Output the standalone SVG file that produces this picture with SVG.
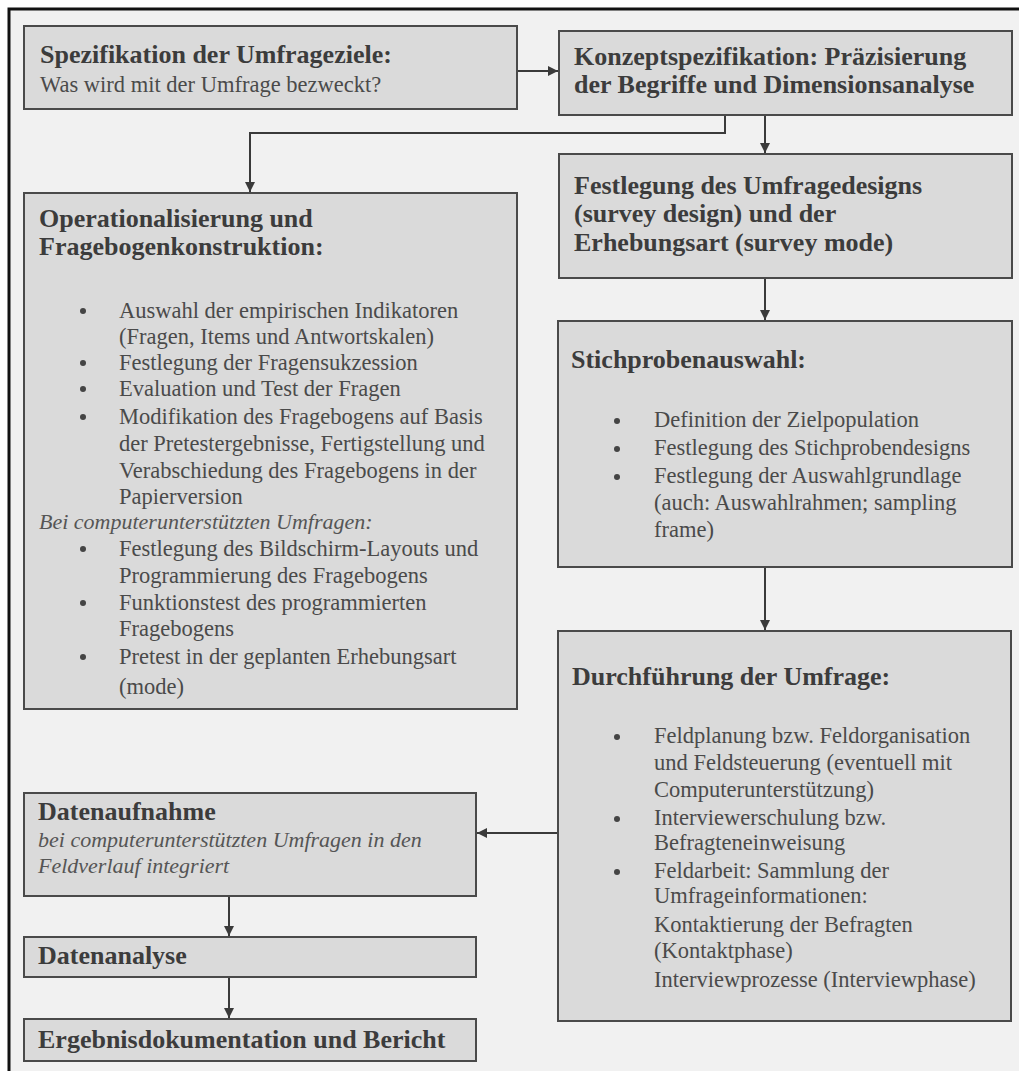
<svg xmlns="http://www.w3.org/2000/svg" width="1019" height="1071" viewBox="0 0 1019 1071">
<defs>
<style>
.box{fill:#dadada;stroke:#4a4a4a;stroke-width:2}
.t{font-family:"Liberation Serif","Times New Roman",serif;font-size:26px;font-weight:bold;fill:#3c3c3c}
.b{font-family:"Liberation Serif","Times New Roman",serif;font-size:22.5px;fill:#4a4a4a}
.i{font-family:"Liberation Serif","Times New Roman",serif;font-size:22px;font-style:italic;fill:#555}
.dot{fill:#444}
.con{fill:none;stroke:#3a3a3a;stroke-width:2}
</style>
<marker id="arr" viewBox="0 0 10 10" refX="10" refY="5" markerWidth="10" markerHeight="10" markerUnits="userSpaceOnUse" orient="auto">
<path d="M0,0 L10,5 L0,10 z" fill="#3a3a3a"/>
</marker>
</defs>
<rect x="0" y="0" width="1019" height="1071" fill="#ffffff"/>
<rect x="9" y="9" width="1010" height="1062" fill="#f1f1f1"/>
<path d="M9,1071 V9 H1019" fill="none" stroke="#111" stroke-width="3"/>

<g id="connectors">
<path class="con" d="M517,71 H558" marker-end="url(#arr)"/>
<path class="con" d="M725,115 V133 H250 V192" marker-end="url(#arr)"/>
<path class="con" d="M765,115 V153" marker-end="url(#arr)"/>
<path class="con" d="M765,278 V320" marker-end="url(#arr)"/>
<path class="con" d="M765,567 V630" marker-end="url(#arr)"/>
<path class="con" d="M558,833 H477" marker-end="url(#arr)"/>
<path class="con" d="M229,896 V936" marker-end="url(#arr)"/>
<path class="con" d="M229,977 V1018" marker-end="url(#arr)"/>
</g>

<g id="n1">
<rect class="box" x="24" y="26" width="493" height="83"/>
<text class="t" x="40" y="63">Spezifikation der Umfrageziele:</text>
<text class="b" x="40" y="92">Was wird mit der Umfrage bezweckt?</text>
</g>

<g id="n2">
<rect class="box" x="559" y="31" width="453" height="84"/>
<text class="t" x="574" y="65">Konzeptspezifikation: Präzisierung</text>
<text class="t" x="574" y="93">der Begriffe und Dimensionsanalyse</text>
</g>

<g id="n3">
<rect class="box" x="24" y="193" width="493" height="516"/>
<text class="t" x="39" y="227">Operationalisierung und</text>
<text class="t" x="39" y="255">Fragebogenkonstruktion:</text>
<circle class="dot" cx="83" cy="311" r="3"/>
<text class="b" x="119" y="318">Auswahl der empirischen Indikatoren</text>
<text class="b" x="119" y="344">(Fragen, Items und Antwortskalen)</text>
<circle class="dot" cx="83" cy="363" r="3"/>
<text class="b" x="119" y="370">Festlegung der Fragensukzession</text>
<circle class="dot" cx="83" cy="389" r="3"/>
<text class="b" x="119" y="396">Evaluation und Test der Fragen</text>
<circle class="dot" cx="83" cy="417" r="3"/>
<text class="b" x="119" y="424">Modifikation des Fragebogens auf Basis</text>
<text class="b" x="119" y="451">der Pretestergebnisse, Fertigstellung und</text>
<text class="b" x="119" y="478">Verabschiedung des Fragebogens in der</text>
<text class="b" x="119" y="504">Papierversion</text>
<text class="i" x="39" y="529">Bei computerunterstützten Umfragen:</text>
<circle class="dot" cx="83" cy="549" r="3"/>
<text class="b" x="119" y="556">Festlegung des Bildschirm-Layouts und</text>
<text class="b" x="119" y="583">Programmierung des Fragebogens</text>
<circle class="dot" cx="83" cy="603" r="3"/>
<text class="b" x="119" y="610">Funktionstest des programmierten</text>
<text class="b" x="119" y="636">Fragebogens</text>
<circle class="dot" cx="83" cy="657" r="3"/>
<text class="b" x="119" y="664">Pretest in der geplanten Erhebungsart</text>
<text class="b" x="119" y="694">(mode)</text>
</g>

<g id="n4">
<rect class="box" x="559" y="154" width="453" height="124"/>
<text class="t" x="574" y="194">Festlegung des Umfragedesigns</text>
<text class="t" x="574" y="222">(survey design) und der</text>
<text class="t" x="574" y="251">Erhebungsart (survey mode)</text>
</g>

<g id="n5">
<rect class="box" x="558" y="321" width="454" height="246"/>
<text class="t" x="571" y="368">Stichprobenauswahl:</text>
<circle class="dot" cx="617" cy="421" r="3"/>
<text class="b" x="654" y="427">Definition der Zielpopulation</text>
<circle class="dot" cx="617" cy="449" r="3"/>
<text class="b" x="654" y="455">Festlegung des Stichprobendesigns</text>
<circle class="dot" cx="617" cy="477" r="3"/>
<text class="b" x="654" y="483">Festlegung der Auswahlgrundlage</text>
<text class="b" x="654" y="510">(auch: Auswahlrahmen; sampling</text>
<text class="b" x="654" y="537">frame)</text>
</g>

<g id="n6">
<rect class="box" x="558" y="631" width="453" height="390"/>
<text class="t" x="572" y="685">Durchführung der Umfrage:</text>
<circle class="dot" cx="617" cy="737" r="3"/>
<text class="b" x="654" y="743">Feldplanung bzw. Feldorganisation</text>
<text class="b" x="654" y="770">und Feldsteuerung (eventuell mit</text>
<text class="b" x="654" y="797">Computerunterstützung)</text>
<circle class="dot" cx="617" cy="819" r="3"/>
<text class="b" x="654" y="825">Interviewerschulung bzw.</text>
<text class="b" x="654" y="850">Befragteneinweisung</text>
<circle class="dot" cx="617" cy="872" r="3"/>
<text class="b" x="654" y="878">Feldarbeit: Sammlung der</text>
<text class="b" x="654" y="903">Umfrageinformationen:</text>
<text class="b" x="654" y="932">Kontaktierung der Befragten</text>
<text class="b" x="654" y="958">(Kontaktphase)</text>
<text class="b" x="654" y="987">Interviewprozesse (Interviewphase)</text>
</g>

<g id="n7">
<rect class="box" x="24" y="793" width="452" height="103"/>
<text class="t" x="38" y="820">Datenaufnahme</text>
<text class="i" x="38" y="847">bei computerunterstützten Umfragen in den</text>
<text class="i" x="38" y="873">Feldverlauf integriert</text>
</g>

<g id="n8">
<rect class="box" x="24" y="937" width="452" height="40"/>
<text class="t" x="38" y="964">Datenanalyse</text>
</g>

<g id="n9">
<rect class="box" x="24" y="1019" width="452" height="42"/>
<text class="t" x="38" y="1048">Ergebnisdokumentation und Bericht</text>
</g>
</svg>
